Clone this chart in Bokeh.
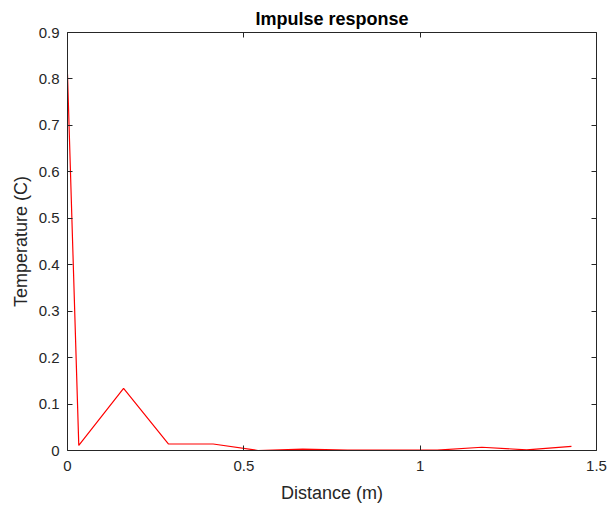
from bokeh.plotting import figure
from bokeh.models import Range1d, FixedTicker, LinearAxis
from bokeh.embed import file_html
from bokeh.resources import INLINE

# Data
distance = [0.0, 0.032, 0.159, 0.286, 0.413, 0.540, 0.667, 0.794, 0.921, 1.048, 1.175, 1.302, 1.429]
temperature = [0.81, 0.011, 0.134, 0.014, 0.014, 0.0, 0.003, 0.001, 0.001, 0.001, 0.007, 0.0015, 0.009]

x_ticks = [0, 0.5, 1, 1.5]
x_tick_labels = ["0", "0.5", "1", "1.5"]
y_ticks = [0, 0.1, 0.2, 0.3, 0.4, 0.5, 0.6, 0.7, 0.8, 0.9]
y_tick_labels = ["0", "0.1", "0.2", "0.3", "0.4", "0.5", "0.6", "0.7", "0.8", "0.9"]

FONT = "Liberation Sans"
AX = "#262626"

p = figure(width=608, height=509, output_backend="svg", toolbar_location=None,
           x_range=Range1d(0, 1.5), y_range=Range1d(0, 0.9),
           min_border_left=67, min_border_right=12, min_border_top=32, min_border_bottom=59,
           title="Impulse response")
p.title.align = "center"
p.title.text_font = FONT
p.title.text_font_size = "18px"
p.title.text_font_style = "bold"
p.title.text_color = "#000000"
p.title.offset = 0
p.title.standoff = 7

p.grid.visible = False
p.outline_line_color = None
p.background_fill_color = "white"
p.border_fill_color = "white"

p.line(distance, temperature, line_color="#ff0000", line_width=1.2)

def style(ax, labels=True):
    ax.axis_line_color = AX
    ax.axis_line_width = 1
    ax.major_tick_line_color = AX
    ax.major_tick_in = 5
    ax.major_tick_out = 0
    ax.minor_tick_line_color = None
    ax.major_label_text_font = FONT
    ax.major_label_text_font_size = "15px"
    ax.major_label_text_color = AX
    ax.axis_label_text_font = FONT
    ax.axis_label_text_font_size = "18px"
    ax.axis_label_text_font_style = "normal"
    ax.axis_label_text_color = AX
    if not labels:
        ax.major_label_text_font_size = "0px"
        ax.major_label_standoff = 0

xa = p.xaxis[0]
xa.ticker = FixedTicker(ticks=x_ticks)
xa.major_label_overrides = dict(zip(x_ticks, x_tick_labels))
xa.axis_label = "Distance (m)"
style(xa)
xa.major_label_standoff = 10
xa.axis_label_standoff = 9

ya = p.yaxis[0]
ya.ticker = FixedTicker(ticks=y_ticks)
ya.major_label_overrides = dict(zip(y_ticks, y_tick_labels))
ya.axis_label = "Temperature (C)"
style(ya)
ya.major_label_standoff = 8
ya.axis_label_standoff = 5

top = LinearAxis(ticker=FixedTicker(ticks=x_ticks))
style(top, labels=False)
top.major_label_overrides = {t: "" for t in x_ticks}
p.add_layout(top, "above")

right = LinearAxis(ticker=FixedTicker(ticks=y_ticks))
style(right, labels=False)
right.major_label_overrides = {t: "" for t in y_ticks}
p.add_layout(right, "right")

open("out.html", "w").write(file_html(p, INLINE))
